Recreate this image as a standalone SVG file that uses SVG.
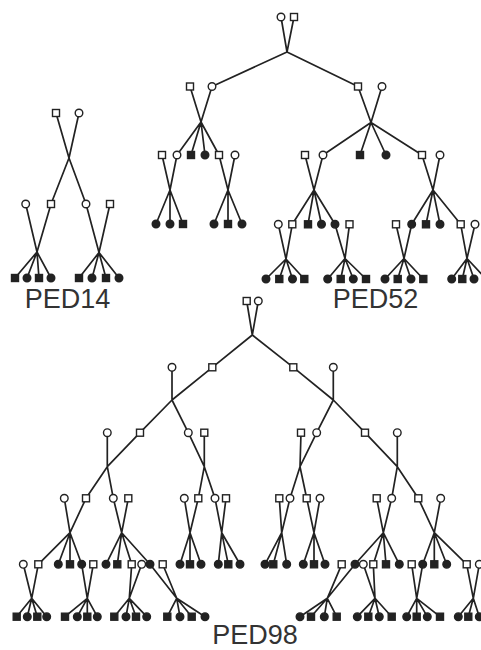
<svg xmlns="http://www.w3.org/2000/svg" xmlns:xlink="http://www.w3.org/1999/xlink" width="481" height="650" viewBox="0 0 481 650">
<style>
.o{fill:#fff;stroke:#222;stroke-width:1.4}
.f{fill:#222;stroke:#222;stroke-width:1.4}
.ln{fill:none;stroke:#222;stroke-width:1.7;stroke-linecap:round;stroke-linejoin:round}
.lbl{font-family:"Liberation Sans",Arial,sans-serif;font-size:27px;fill:#333;text-anchor:middle}
</style>
<defs>
<rect id="s" x="-3.5" y="-3.5" width="7" height="7"/>
<circle id="c" r="3.8"/>
</defs>
<rect width="481" height="650" fill="#fff"/>
<g id="connectors" class="ln">
<path d="M56,113L69,158L86,204M79,113L69,158L51,204M25.7,204L37,252M51,204L37,252M37,252L15,278M37,252L27,278M37,252L39,278M37,252L51,278M86,204L99,252.5M110,204L99,252.5M99,252.5L79,278M99,252.5L92,278M99,252.5L106,278M99,252.5L119,278"/>
<path d="M281,17L287,52M294,17L287,52M287,52L212,86.5M287,52L358,86.5M190,86.5L201,122M212,86.5L201,122M201,122L177,155M201,122L191,155M201,122L205,155M201,122L219,155M358,86.5L371,122.5M382,86.5L371,122.5M371,122.5L323,155M371,122.5L360,155M371,122.5L386,155M371,122.5L422,155M162,155L170,190M177,155L170,190M170,190L156,224M170,190L170,224M170,190L183,224M219,155L228,190M235,155L228,190M228,190L214,224M228,190L228,224M228,190L242,224M305,155L314,190M323,155L314,190M314,190L292.3,224.3M314,190L308,224.3M314,190L321.5,224.3M314,190L335,224.3M422,155L433,190M440,155L433,190M433,190L411.7,224.3M433,190L426,224.3M433,190L440,224.3M433,190L460.7,224.3M278.3,224.3L286,259M292.3,224.3L286,259M286,259L266,279M286,259L279.3,279M286,259L292.5,279M286,259L304.3,279M335,224.3L345,258.5M349.5,224.3L345,258.5M345,258.5L327.7,279M345,258.5L340.7,279M345,258.5L353.3,279M345,258.5L366,279M396,224.3L404,258.5M411.7,224.3L404,258.5M404,258.5L385,279M404,258.5L397.7,279M404,258.5L411,279M404,258.5L423.3,279M460.7,224.3L467,258.5M475,224.3L467,258.5M467,258.5L451.7,279M467,258.5L462.3,279M467,258.5L474,279M467,258.5L486,279"/>
<path d="M246.7,301L252.3,335M258.3,301L252.3,335M252.3,335L212.3,367.3L172,400M172,367.3L172,400M252.3,335L293.3,367.3L333.3,400M333.3,367.3L333.3,400M172,400L140,432.7L107.3,466.7M107.3,432.7L107.3,466.7M172,400L188.3,432.7L204.3,466.7M204.3,432.7L204.3,466.7M333.3,400L316.7,432.7L300,466.7M301,432.7L300,466.7M333.3,400L365,432.7L397.3,466.7M397.3,432.7L397.3,466.7M107.3,466.7L86,498.3M107.3,466.7L113.3,498.3M204.3,466.7L198.3,498.3M204.3,466.7L215,498.3M300,466.7L290,498.3M300,466.7L306.7,498.3M397.3,466.7L391.7,498.3M397.3,466.7L418.3,498.3"/>
<path d="M64.3,498.3L70,532.7M86,498.3L70,532.7M70,532.7L38.3,564.3M70,532.7L58.3,564.3M70,532.7L70,564.3M70,532.7L81.7,564.3M113.3,498.3L121.7,532.7M128.3,498.3L121.7,532.7M121.7,532.7L106,564.3M121.7,532.7L117.3,564.3M121.7,532.7L131.7,564.3M121.7,532.7L150,564.3M184.3,498.3L190,532.7M198.3,498.3L190,532.7M190,532.7L180,564.3M190,532.7L190,564.3M190,532.7L201,564.3M215,498.3L221.7,532.7M226,498.3L221.7,532.7M221.7,532.7L218.3,564.3M221.7,532.7L228.3,564.3M221.7,532.7L240,564.3M279.3,498.3L281.7,532.7M290,498.3L281.7,532.7M281.7,532.7L265,564.3M281.7,532.7L273.3,564.3M281.7,532.7L286.7,564.3M306.7,498.3L314,532.7M320,498.3L314,532.7M314,532.7L303.3,564.3M314,532.7L314,564.3M314,532.7L325,564.3M376.7,498.3L383.3,532.7M391.7,498.3L383.3,532.7M383.3,532.7L355,564.3M383.3,532.7L373.3,564.3M383.3,532.7L386,564.3M383.3,532.7L399.3,564.3M418.3,498.3L434.3,532.7M440.7,498.3L434.3,532.7M434.3,532.7L422.7,564.3M434.3,532.7L434.3,564.3M434.3,532.7L446.7,564.3M434.3,532.7L466.7,564.3"/>
<path d="M23.3,564.3L31.7,598.3M38.3,564.3L31.7,598.3M31.7,598.3L16.7,616.7M31.7,598.3L27.3,616.7M31.7,598.3L37.3,616.7M31.7,598.3L46.7,616.7M81.7,564.3L87.3,598.3M93.3,564.3L87.3,598.3M87.3,598.3L65,616.7M87.3,598.3L77.3,616.7M87.3,598.3L87.3,616.7M87.3,598.3L97.3,616.7M131.7,564.3L129.3,598.3M141.7,564.3L129.3,598.3M129.3,598.3L114.3,616.7M129.3,598.3L126,616.7M129.3,598.3L136,616.7M129.3,598.3L146.7,616.7M150,564.3L176.7,598.3M162.7,564.3L176.7,598.3M176.7,598.3L167.3,616.7M176.7,598.3L180,616.7M176.7,598.3L191.7,616.7M176.7,598.3L205,616.7M341.7,564.3L327.3,598.3M355,564.3L327.3,598.3M327.3,598.3L300,616.7M327.3,598.3L311,616.7M327.3,598.3L324.3,616.7M327.3,598.3L336.7,616.7M363.3,564.3L375,598.3M373.3,564.3L375,598.3M375,598.3L357.3,616.7M375,598.3L368.3,616.7M375,598.3L379.3,616.7M375,598.3L391.7,616.7M411.7,564.3L416.7,598.3M422.7,564.3L416.7,598.3M416.7,598.3L406.7,616.7M416.7,598.3L416.7,616.7M416.7,598.3L427.3,616.7M416.7,598.3L440,616.7M466.7,564.3L473.3,598.3M479.3,564.3L473.3,598.3M473.3,598.3L458.3,616.7M473.3,598.3L468.3,616.7M473.3,598.3L479.3,616.7"/>
</g>
<g id="ped14">
<g id="p14-g1"><use href="#s" class="o" x="56" y="113"/><use href="#c" class="o" x="79" y="113"/></g>
<g id="p14-g2"><use href="#c" class="o" x="25.7" y="204"/><use href="#s" class="o" x="51" y="204"/><use href="#c" class="o" x="86" y="204"/><use href="#s" class="o" x="110" y="204"/></g>
<g id="p14-g3"><use href="#s" class="f" x="15" y="278"/><use href="#c" class="f" x="27" y="278"/><use href="#s" class="f" x="39" y="278"/><use href="#c" class="f" x="51" y="278"/><use href="#s" class="f" x="79" y="278"/><use href="#c" class="f" x="92" y="278"/><use href="#s" class="f" x="106" y="278"/><use href="#c" class="f" x="119" y="278"/></g>
<text class="lbl" x="67.5" y="308">PED14</text>
</g>
<g id="ped52">
<g id="p52-g1"><use href="#c" class="o" x="281" y="17"/><use href="#s" class="o" x="294" y="17"/></g>
<g id="p52-g2"><use href="#s" class="o" x="190" y="86.5"/><use href="#c" class="o" x="212" y="86.5"/><use href="#s" class="o" x="358" y="86.5"/><use href="#c" class="o" x="382" y="86.5"/></g>
<g id="p52-g3"><use href="#s" class="o" x="162" y="155"/><use href="#c" class="o" x="177" y="155"/><use href="#s" class="f" x="191" y="155"/><use href="#c" class="f" x="205" y="155"/><use href="#s" class="o" x="219" y="155"/><use href="#c" class="o" x="235" y="155"/><use href="#s" class="o" x="305" y="155"/><use href="#c" class="o" x="323" y="155"/><use href="#s" class="f" x="360" y="155"/><use href="#c" class="f" x="386" y="155"/><use href="#s" class="o" x="422" y="155"/><use href="#c" class="o" x="440" y="155"/></g>
<g id="p52-g4"><use href="#c" class="f" x="156" y="224"/><use href="#c" class="f" x="170" y="224"/><use href="#s" class="f" x="183" y="224"/><use href="#c" class="f" x="214" y="224"/><use href="#s" class="f" x="228" y="224"/><use href="#c" class="f" x="242" y="224"/><use href="#c" class="o" x="278.3" y="224.3"/><use href="#s" class="o" x="292.3" y="224.3"/><use href="#s" class="f" x="308" y="224.3"/><use href="#c" class="f" x="321.5" y="224.3"/><use href="#c" class="f" x="335" y="224.3"/><use href="#s" class="o" x="349.5" y="224.3"/><use href="#s" class="o" x="396" y="224.3"/><use href="#c" class="f" x="411.7" y="224.3"/><use href="#s" class="f" x="426" y="224.3"/><use href="#c" class="f" x="440" y="224.3"/><use href="#s" class="o" x="460.7" y="224.3"/><use href="#c" class="o" x="475" y="224.3"/></g>
<g id="p52-g5"><use href="#c" class="f" x="266" y="279"/><use href="#s" class="f" x="279.3" y="279"/><use href="#c" class="f" x="292.5" y="279"/><use href="#s" class="f" x="304.3" y="279"/><use href="#c" class="f" x="327.7" y="279"/><use href="#s" class="f" x="340.7" y="279"/><use href="#c" class="f" x="353.3" y="279"/><use href="#s" class="f" x="366" y="279"/><use href="#c" class="f" x="385" y="279"/><use href="#s" class="f" x="397.7" y="279"/><use href="#c" class="f" x="411" y="279"/><use href="#s" class="f" x="423.3" y="279"/><use href="#c" class="f" x="451.7" y="279"/><use href="#s" class="f" x="462.3" y="279"/><use href="#c" class="f" x="474" y="279"/><use href="#s" class="f" x="486" y="279"/></g>
<text class="lbl" x="375.5" y="308">PED52</text>
</g>
<g id="ped98">
<g id="p98-g1"><use href="#s" class="o" x="246.7" y="301"/><use href="#c" class="o" x="258.3" y="301"/></g>
<g id="p98-g2"><use href="#c" class="o" x="172" y="367.3"/><use href="#s" class="o" x="212.3" y="367.3"/><use href="#s" class="o" x="293.3" y="367.3"/><use href="#c" class="o" x="333.3" y="367.3"/></g>
<g id="p98-g3"><use href="#c" class="o" x="107.3" y="432.7"/><use href="#s" class="o" x="140" y="432.7"/><use href="#c" class="o" x="188.3" y="432.7"/><use href="#s" class="o" x="204.3" y="432.7"/><use href="#s" class="o" x="301" y="432.7"/><use href="#c" class="o" x="316.7" y="432.7"/><use href="#s" class="o" x="365" y="432.7"/><use href="#c" class="o" x="397.3" y="432.7"/></g>
<g id="p98-g4"><use href="#c" class="o" x="64.3" y="498.3"/><use href="#s" class="o" x="86" y="498.3"/><use href="#c" class="o" x="113.3" y="498.3"/><use href="#s" class="o" x="128.3" y="498.3"/><use href="#c" class="o" x="184.3" y="498.3"/><use href="#s" class="o" x="198.3" y="498.3"/><use href="#c" class="o" x="215" y="498.3"/><use href="#s" class="o" x="226" y="498.3"/><use href="#s" class="o" x="279.3" y="498.3"/><use href="#c" class="o" x="290" y="498.3"/><use href="#s" class="o" x="306.7" y="498.3"/><use href="#c" class="o" x="320" y="498.3"/><use href="#s" class="o" x="376.7" y="498.3"/><use href="#c" class="o" x="391.7" y="498.3"/><use href="#s" class="o" x="418.3" y="498.3"/><use href="#c" class="o" x="440.7" y="498.3"/></g>
<g id="p98-g5"><use href="#c" class="o" x="23.3" y="564.3"/><use href="#s" class="o" x="38.3" y="564.3"/><use href="#c" class="f" x="58.3" y="564.3"/><use href="#s" class="f" x="70" y="564.3"/><use href="#c" class="f" x="81.7" y="564.3"/><use href="#s" class="o" x="93.3" y="564.3"/><use href="#c" class="f" x="106" y="564.3"/><use href="#s" class="f" x="117.3" y="564.3"/><use href="#s" class="o" x="131.7" y="564.3"/><use href="#c" class="o" x="141.7" y="564.3"/><use href="#c" class="f" x="150" y="564.3"/><use href="#s" class="o" x="162.7" y="564.3"/><use href="#c" class="f" x="180" y="564.3"/><use href="#s" class="f" x="190" y="564.3"/><use href="#c" class="f" x="201" y="564.3"/><use href="#c" class="f" x="218.3" y="564.3"/><use href="#s" class="f" x="228.3" y="564.3"/><use href="#c" class="f" x="240" y="564.3"/><use href="#c" class="f" x="265" y="564.3"/><use href="#s" class="f" x="273.3" y="564.3"/><use href="#c" class="f" x="286.7" y="564.3"/><use href="#c" class="f" x="303.3" y="564.3"/><use href="#s" class="f" x="314" y="564.3"/><use href="#c" class="f" x="325" y="564.3"/><use href="#s" class="o" x="341.7" y="564.3"/><use href="#c" class="f" x="355" y="564.3"/><use href="#c" class="o" x="363.3" y="564.3"/><use href="#s" class="o" x="373.3" y="564.3"/><use href="#s" class="f" x="386" y="564.3"/><use href="#c" class="f" x="399.3" y="564.3"/><use href="#s" class="o" x="411.7" y="564.3"/><use href="#c" class="f" x="422.7" y="564.3"/><use href="#s" class="f" x="434.3" y="564.3"/><use href="#c" class="f" x="446.7" y="564.3"/><use href="#s" class="o" x="466.7" y="564.3"/><use href="#c" class="o" x="479.3" y="564.3"/></g>
<g id="p98-g6"><use href="#s" class="f" x="16.7" y="616.7"/><use href="#c" class="f" x="27.3" y="616.7"/><use href="#s" class="f" x="37.3" y="616.7"/><use href="#c" class="f" x="46.7" y="616.7"/><use href="#s" class="f" x="65" y="616.7"/><use href="#c" class="f" x="77.3" y="616.7"/><use href="#s" class="f" x="87.3" y="616.7"/><use href="#c" class="f" x="97.3" y="616.7"/><use href="#s" class="f" x="114.3" y="616.7"/><use href="#c" class="f" x="126" y="616.7"/><use href="#s" class="f" x="136" y="616.7"/><use href="#c" class="f" x="146.7" y="616.7"/><use href="#s" class="f" x="167.3" y="616.7"/><use href="#c" class="f" x="180" y="616.7"/><use href="#s" class="f" x="191.7" y="616.7"/><use href="#c" class="f" x="205" y="616.7"/><use href="#c" class="f" x="300" y="616.7"/><use href="#s" class="f" x="311" y="616.7"/><use href="#c" class="f" x="324.3" y="616.7"/><use href="#s" class="f" x="336.7" y="616.7"/><use href="#c" class="f" x="357.3" y="616.7"/><use href="#s" class="f" x="368.3" y="616.7"/><use href="#c" class="f" x="379.3" y="616.7"/><use href="#s" class="f" x="391.7" y="616.7"/><use href="#c" class="f" x="406.7" y="616.7"/><use href="#s" class="f" x="416.7" y="616.7"/><use href="#c" class="f" x="427.3" y="616.7"/><use href="#s" class="f" x="440" y="616.7"/><use href="#c" class="f" x="458.3" y="616.7"/><use href="#s" class="f" x="468.3" y="616.7"/><use href="#c" class="f" x="479.3" y="616.7"/></g>
<text class="lbl" x="255" y="644">PED98</text>
</g>
</svg>
